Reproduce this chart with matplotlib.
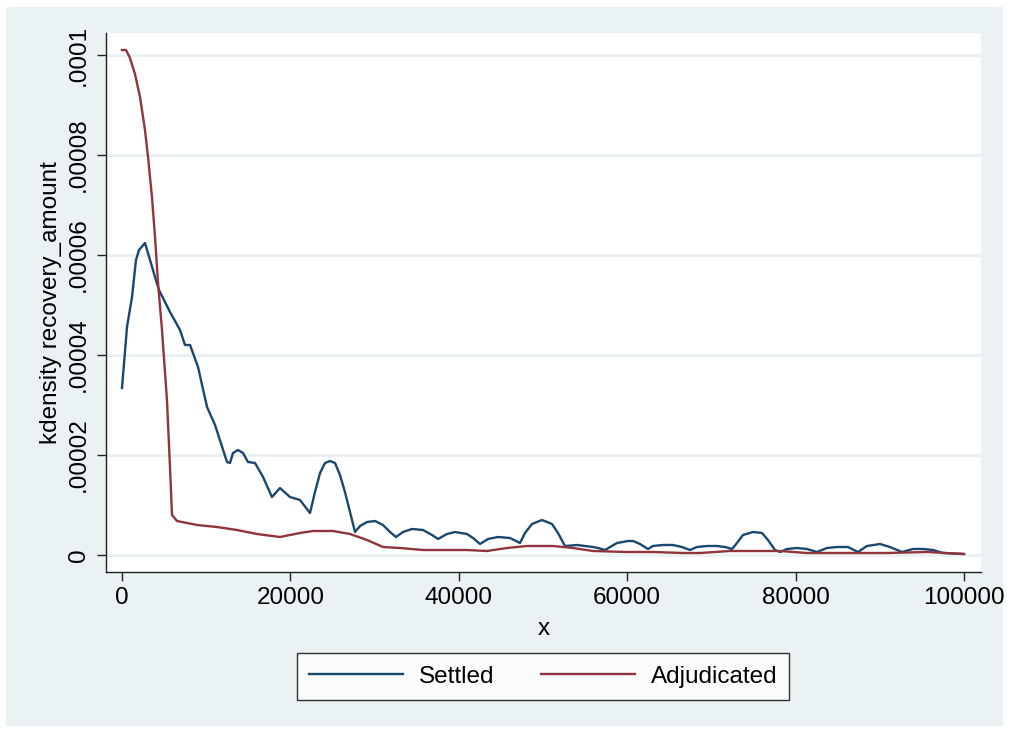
import matplotlib
matplotlib.use("Agg")
import matplotlib.pyplot as plt
from matplotlib.patches import Rectangle

# kernel density estimates of recovery_amount, read along x
settled_x = [0, 594, 1190, 1660, 2020, 2730, 3330, 3920, 4390, 4870, 5700, 6890,
             7480, 8080, 9030, 10100, 11050, 12470, 12830, 13180, 13780, 14370,
             14960, 15800, 16750, 17810, 18760, 19950, 21140, 22330, 22920, 23520,
             24110, 24700, 25300, 25890, 26480, 27080, 27670, 28270, 29100, 30050,
             31000, 31830, 32540, 33370, 34440, 35750, 36820, 37530, 38600, 39550,
             40970, 41690, 42520, 43470, 44660, 46080, 47270, 47860, 48690, 49880,
             51070, 51780, 52610, 54040, 55940, 56530, 57360, 58790, 59500, 60100,
             60690, 61520, 62470, 63060, 64250, 65440, 66510, 67460, 68290, 69480,
             70670, 71620, 72450, 73040, 73750, 74940, 76010, 76720, 77550, 78150,
             78980, 80170, 81350, 82540, 83730, 84920, 86220, 87410, 88480, 90020,
             91210, 92640, 93940, 95130, 96320, 97510, 100000]
settled_y = [3.34e-5, 4.56e-5, 5.16e-5, 5.9e-5, 6.1e-5, 6.24e-5, 5.9e-5, 5.56e-5,
             5.3e-5, 5.14e-5, 4.86e-5, 4.5e-5, 4.2e-5, 4.2e-5, 3.76e-5, 2.96e-5,
             2.6e-5, 1.86e-5, 1.84e-5, 2.04e-5, 2.1e-5, 2.04e-5, 1.86e-5, 1.84e-5,
             1.56e-5, 1.16e-5, 1.34e-5, 1.16e-5, 1.1e-5, 8.4e-6, 1.26e-5, 1.64e-5,
             1.84e-5, 1.88e-5, 1.84e-5, 1.6e-5, 1.26e-5, 8.6e-6, 4.6e-6, 5.8e-6,
             6.6e-6, 6.8e-6, 6.0e-6, 4.6e-6, 3.6e-6, 4.6e-6, 5.2e-6, 5.0e-6, 4.0e-6,
             3.2e-6, 4.2e-6, 4.6e-6, 4.2e-6, 3.4e-6, 2.2e-6, 3.2e-6, 3.6e-6, 3.4e-6,
             2.4e-6, 4.4e-6, 6.2e-6, 7.0e-6, 6.2e-6, 4.4e-6, 1.8e-6, 2.0e-6, 1.6e-6,
             1.4e-6, 1.0e-6, 2.4e-6, 2.6e-6, 2.8e-6, 2.8e-6, 2.2e-6, 1.2e-6, 1.8e-6,
             2.0e-6, 2.0e-6, 1.6e-6, 1.0e-6, 1.6e-6, 1.8e-6, 1.8e-6, 1.6e-6, 1.2e-6,
             2.4e-6, 4.0e-6, 4.6e-6, 4.4e-6, 3.0e-6, 1.0e-6, 6e-7, 1.2e-6, 1.4e-6,
             1.2e-6, 6e-7, 1.4e-6, 1.6e-6, 1.6e-6, 6e-7, 1.8e-6, 2.2e-6, 1.6e-6,
             6e-7, 1.2e-6, 1.2e-6, 1.0e-6, 4e-7, 2e-7]

adjud_x = [0, 475, 950, 1540, 2140, 2730, 3090, 3560, 3920, 4280, 4750, 5340,
           5700, 5940, 6530, 8910, 11280, 13660, 16030, 18760, 21140, 22680,
           25060, 27080, 29100, 31000, 33020, 35750, 40970, 43350, 45720, 48100,
           51190, 53560, 55940, 59980, 63060, 66630, 68650, 72210, 78150, 81350,
           85270, 90850, 95600, 100000]
adjud_y = [1.01e-4, 1.01e-4, 9.94e-5, 9.62e-5, 9.16e-5, 8.5e-5, 7.96e-5, 7.16e-5,
           6.36e-5, 5.44e-5, 4.5e-5, 3.1e-5, 1.76e-5, 8.0e-6, 6.8e-6, 6.0e-6,
           5.6e-6, 5.0e-6, 4.2e-6, 3.6e-6, 4.4e-6, 4.8e-6, 4.8e-6, 4.2e-6, 3.0e-6,
           1.6e-6, 1.4e-6, 1.0e-6, 1.0e-6, 8e-7, 1.4e-6, 1.8e-6, 1.8e-6, 1.4e-6,
           8e-7, 6e-7, 6e-7, 4e-7, 4e-7, 8e-7, 8e-7, 4e-7, 4e-7, 4e-7, 6e-7, 2e-7]

yticks = [0, 0.00002, 0.00004, 0.00006, 0.00008, 0.0001]
ylabels = ["0", ".00002", ".00004", ".00006", ".00008", ".0001"]
xticks = [0, 20000, 40000, 60000, 80000, 100000]

plt.rcParams["font.family"] = ["Liberation Sans", "DejaVu Sans"]
bg = "#EAF2F3"
navy = "#1A476F"
maroon = "#90353B"
fs = 17.5

fig = plt.figure(figsize=(10.09, 7.3), dpi=100)
fig.patch.set_facecolor("white")
fig.add_artist(Rectangle((6 / 1009, 4 / 730), 997 / 1009, 719 / 730,
                         transform=fig.transFigure, facecolor=bg,
                         edgecolor="none", zorder=0))

ax = fig.add_axes([106 / 1009, 158 / 730, 875 / 1009, 539 / 730])
ax.set_facecolor("white")
for y in yticks:
    ax.axhline(y, color=bg, lw=2.2, zorder=1)

ax.plot(settled_x, settled_y, color=navy, lw=1.7, label="Settled", zorder=3,
        solid_joinstyle="round")
ax.plot(adjud_x, adjud_y, color=maroon, lw=1.7, label="Adjudicated", zorder=3,
        solid_joinstyle="round")

ax.set_xlim(-1900, 102020)
ax.set_ylim(-3.4e-6, 1.044e-4)
ax.set_xticks(xticks)
ax.set_xticklabels([str(v) for v in xticks], fontsize=fs)
ax.set_yticks(yticks)
ax.set_yticklabels(ylabels, fontsize=fs, rotation=90, va="center")
ax.tick_params(axis="both", direction="out", length=6.5, width=1, color="#222222")
ax.tick_params(axis="y", pad=5)
ax.tick_params(axis="x", pad=4)
for side in ("top", "right"):
    ax.spines[side].set_visible(False)
for side in ("left", "bottom"):
    ax.spines[side].set_color("#222222")
    ax.spines[side].set_linewidth(1)

ax.set_xlabel("x", fontsize=fs, labelpad=7)
ax.set_ylabel("kdensity recovery_amount", fontsize=fs, labelpad=4)

leg = fig.legend(loc="center", bbox_to_anchor=(543 / 1009, 1 - 676.5 / 730),
                 ncol=2, fontsize=fs, frameon=True, fancybox=False,
                 handlelength=3.87, handletextpad=0.66, columnspacing=1.9,
                 borderpad=0.5, borderaxespad=0)
leg.get_frame().set_edgecolor("black")
leg.get_frame().set_linewidth(1)
leg.get_frame().set_facecolor("white")
for line in leg.get_lines():
    line.set_linewidth(1.7)

fig.savefig("out.png", dpi=100)
